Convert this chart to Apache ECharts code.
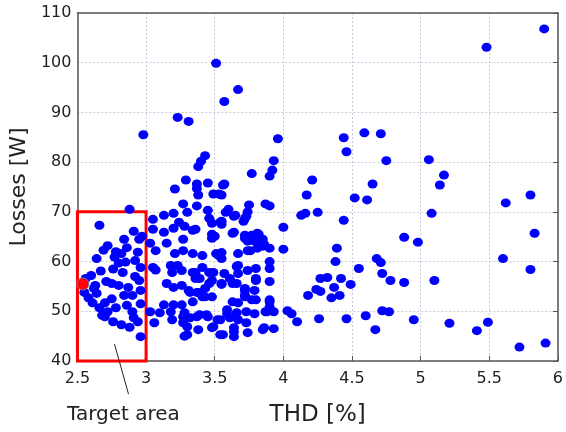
<!DOCTYPE html>
<html>
<head>
<meta charset="utf-8">
<script src="https://cdn.jsdelivr.net/npm/echarts@6/dist/echarts.min.js"></script>
<style>html,body{margin:0;padding:0;background:#fff}#c{width:566px;height:432px}</style>
</head>
<body>
<div id="c"></div>
<script>
var xTicks = [2.5, 3, 3.5, 4, 4.5, 5, 5.5, 6];
var yTicks = [40, 50, 60, 70, 80, 90, 100, 110];
var xLabel = 'THD [%]';
var yLabel = 'Losses [W]';
var annotationText = 'Target area';
var targetArea = [[2.5, 40], [3.0, 70]];
var optimumPoint = [[2.54, 55.5]];

var boxPoints = [[2.88,70.5],[2.66,67.3],[2.91,66.1],[2.84,64.5],[2.95,64.5],[2.72,63.2],[2.69,62.3],[2.64,60.6],[2.77,60.9],[2.82,61.6],[2.94,61.9],[2.80,59.7],[2.85,59.9],[2.92,60.2],[2.96,58.8],[2.76,58.5],[2.83,57.8],[2.67,58.1],[2.60,57.2],[2.56,56.6],[2.55,53.8],[2.62,54.6],[2.64,53.6],[2.75,55.6],[2.80,55.2],[2.87,54.8],[2.95,56.2],[2.96,54.2],[2.84,53.2],[2.90,53.2],[2.58,52.7],[2.61,51.7],[2.66,50.7],[2.70,51.7],[2.72,49.9],[2.78,50.7],[2.70,48.9],[2.76,47.9],[2.82,47.3],[2.91,48.7],[2.94,47.9],[2.90,49.9],[2.96,44.9],[2.86,62.8],[2.78,62.0],[2.92,57.0],[2.71,56.0],[2.63,55.2],[2.86,51.2],[2.75,52.5],[2.96,51.5],[2.68,49.2],[2.88,46.8],[2.97,65.1]];

var midHigh = [[2.98,85.5],[3.23,89.0],[3.31,88.2],[3.43,81.3],[3.40,80.2],[3.38,79.1],[3.29,76.4],[3.21,74.6],[3.37,75.6],[3.37,74.7],[3.45,75.8],[3.38,73.4],[3.49,73.6],[3.27,71.6],[3.37,71.2],[3.30,69.9],[3.20,69.7],[3.13,69.3],[3.05,68.5],[3.45,70.3],[3.46,68.7],[3.05,66.5],[3.13,65.9],[3.20,66.7],[3.24,67.9],[3.28,67.1],[3.34,66.3],[3.48,65.5],[3.48,67.7],[3.36,66.5],[3.50,65.1],
[3.51,99.9],[3.67,94.6],[3.57,92.2],[3.96,84.7],[3.93,80.3],[3.92,78.4],[3.90,77.2],[3.77,77.7],[3.57,75.6],[3.55,73.4],[3.56,75.4],[3.54,67.9],[3.87,71.6],[3.90,71.2],[3.75,71.4],[3.74,70.0],[3.60,70.5],[3.58,69.9],[3.65,69.3],[3.73,69.1],[3.71,68.1],[3.55,67.5],[4.00,66.9],[3.64,65.9],[3.72,65.3],[3.77,65.3],[3.81,65.7],[3.85,64.5],[3.53,73.6],[3.55,68.1],[3.64,69.1],[3.72,68.7],[3.63,65.7],[3.77,64.9],[3.82,65.5],[3.81,64.1],[3.85,63.1],[3.74,64.1],[3.76,62.2]];

var midLow = [[3.03,63.7],[3.07,62.2],[3.15,63.7],[3.27,64.5],[3.27,62.2],[3.21,61.6],[3.34,61.6],[3.41,61.2],[3.48,64.7],[3.51,61.6],[3.05,58.8],[3.07,58.3],[3.18,59.2],[3.23,59.2],[3.19,57.8],[3.26,58.2],[3.34,57.8],[3.41,58.8],[3.46,57.8],[3.36,56.6],[3.15,55.6],[3.20,54.8],[3.26,55.2],[3.31,54.2],[3.38,53.8],[3.43,54.6],[3.46,55.6],[3.41,52.9],[3.48,52.9],[3.34,51.9],[3.13,51.3],[3.20,51.3],[3.26,51.3],[3.10,49.7],[3.18,49.9],[3.19,48.3],[3.27,48.9],[3.32,48.7],[3.39,49.3],[3.45,48.9],[3.52,48.3],[3.27,47.7],[3.06,47.7],[3.38,46.3],[3.48,46.7],[3.30,45.3],[3.54,45.3],[3.03,49.9],[3.55,61.8],
[3.36,57.8],[3.49,57.8],[3.57,57.6],[3.39,56.6],[3.48,56.2],[3.55,55.6],[3.32,53.8],[3.37,53.8],[3.43,52.9],[3.28,49.7],[3.37,48.9],[3.44,49.3],[3.30,46.9],[3.28,45.0],[3.49,46.9],
[4.00,62.5],[3.90,60.0],[3.90,58.6],[3.80,58.6],[3.74,58.2],[3.66,59.0],[3.67,57.6],[3.61,56.6],[3.55,55.4],[3.80,56.6],[3.90,56.0],[3.66,55.6],[3.72,54.6],[3.72,53.3],[3.79,54.2],[3.77,52.3],[3.80,52.3],[3.63,51.9],[3.67,51.7],[3.90,52.3],[3.90,50.9],[3.88,49.9],[3.93,49.9],[4.03,50.1],[4.06,49.5],[4.10,47.9],[3.59,49.5],[3.61,48.7],[3.73,49.9],[3.79,49.5],[3.73,47.7],[3.64,46.7],[3.64,44.9],[3.74,45.7],[3.85,46.3],[3.93,46.5],[3.56,45.3],[3.53,61.2],[3.55,60.6],[3.67,61.6],[3.74,62.2],[3.81,62.7],[3.86,63.5],[3.90,62.7],[3.79,64.1],[3.72,64.7],[3.54,48.3],
[3.67,59.2],[3.63,55.6],[3.80,56.2],[3.72,54.2],[3.72,52.9],[3.90,51.9],[3.59,50.3],[3.66,49.7],[3.87,49.9],[3.67,48.3],[3.86,46.7],[3.64,45.9]];

var farPoints = [[4.44,84.9],[4.46,82.1],[4.59,85.9],[4.71,85.7],[4.75,80.3],[4.21,76.4],[4.17,73.4],[4.52,72.8],[4.61,72.4],[4.65,75.6],[4.13,69.3],[4.16,69.7],[4.25,69.9],[4.44,68.3],[5.06,80.5],[5.17,77.4],[5.14,75.4],[5.08,69.7],[4.88,64.9],[4.98,63.9],[4.39,62.7],[4.38,60.0],[4.68,60.6],[4.71,59.8],[4.55,58.6],[4.72,57.6],[4.78,56.2],[4.88,55.8],[5.10,56.2],[4.27,56.6],[4.32,56.8],[4.42,56.6],[4.49,55.4],[4.37,54.8],[4.24,54.4],[4.27,54.0],[4.18,53.2],[4.35,52.7],[4.41,53.2],[4.26,48.5],[4.46,48.5],[4.60,49.1],[4.67,46.3],[4.72,50.1],[4.77,49.9],[4.95,48.3],[5.21,47.6],[5.41,46.1],[5.49,47.8],[5.72,42.8],[5.91,43.6],[5.62,71.8],[5.80,73.4],[5.83,65.7],[5.60,60.6],[5.80,58.4],[5.48,103.1],[5.90,106.8]];

var allPoints = boxPoints.concat(midHigh, midLow, farPoints);

var chart = echarts.init(document.getElementById('c'), null, {renderer: 'canvas'});
var font = 'DejaVu Sans, Verdana, sans-serif';
var frameLine = {show: true, onZero: false, lineStyle: {color: '#555', width: 1.5}};
var gridLine = {show: true, lineStyle: {color: '#c8c8de', type: [2, 2], width: 1}};
chart.setOption({
  animation: false,
  grid: {left: 76, right: 4, top: 13, bottom: 65},
  xAxis: [{
    type: 'value', min: xTicks[0], max: xTicks[xTicks.length - 1], interval: 0.5,
    name: xLabel, nameLocation: 'middle', nameGap: 43,
    nameTextStyle: {fontFamily: font, fontSize: 23, color: '#222'},
    axisLine: frameLine,
    axisTick: {show: true, inside: true, length: 5, lineStyle: {color: '#555'}},
    axisLabel: {fontFamily: font, fontSize: 16, color: '#222', margin: 10,
      formatter: function (v) { return xTicks.indexOf(v) >= 0 ? String(v) : ''; }},
    splitLine: gridLine
  }, {
    type: 'value', min: xTicks[0], max: xTicks[xTicks.length - 1], interval: 0.5, position: 'top',
    axisLine: frameLine, axisTick: {show: false}, axisLabel: {show: false}, splitLine: {show: false}
  }],
  yAxis: [{
    type: 'value', min: yTicks[0], max: yTicks[yTicks.length - 1], interval: 10,
    name: yLabel, nameLocation: 'middle', nameGap: 47,
    nameTextStyle: {fontFamily: font, fontSize: 22, color: '#222'},
    axisLine: frameLine,
    axisTick: {show: false},
    axisLabel: {fontFamily: font, fontSize: 16, color: '#222', margin: 6},
    splitLine: gridLine
  }, {
    type: 'value', min: yTicks[0], max: yTicks[yTicks.length - 1], interval: 10, position: 'right',
    axisLine: frameLine, axisLabel: {show: false}, splitLine: {show: false},
    axisTick: {show: true, inside: true, length: 5, lineStyle: {color: '#555'}}
  }],
  series: [{
    type: 'scatter', data: allPoints, symbolSize: [10, 9],
    itemStyle: {color: '#0000ff', opacity: 1},
    z: 5
  }, {
    type: 'scatter', data: [], z: 6,
    markArea: {
      silent: true,
      itemStyle: {color: 'rgba(0,0,0,0)', borderColor: '#ff0000', borderWidth: 3, opacity: 1},
      data: [[{coord: targetArea[0]}, {coord: targetArea[1]}]]
    }
  }, {
    type: 'scatter', data: optimumPoint, symbolSize: 12,
    itemStyle: {color: '#ff0000', borderColor: '#7a7a9a', borderWidth: 1, opacity: 1}, z: 7
  }]
});

var p = chart.convertToPixel({gridIndex: 0}, [2.77, 43.4]);
chart.setOption({
  graphic: [{
    type: 'line', shape: {x1: p[0], y1: p[1], x2: p[0] + 14, y2: p[1] + 50},
    style: {stroke: '#222', lineWidth: 1}, z: 10
  }, {
    type: 'text', left: 67, top: 405,
    style: {text: annotationText, font: '20px ' + font, fill: '#222'}, z: 10
  }]
});
</script>
</body>
</html>
